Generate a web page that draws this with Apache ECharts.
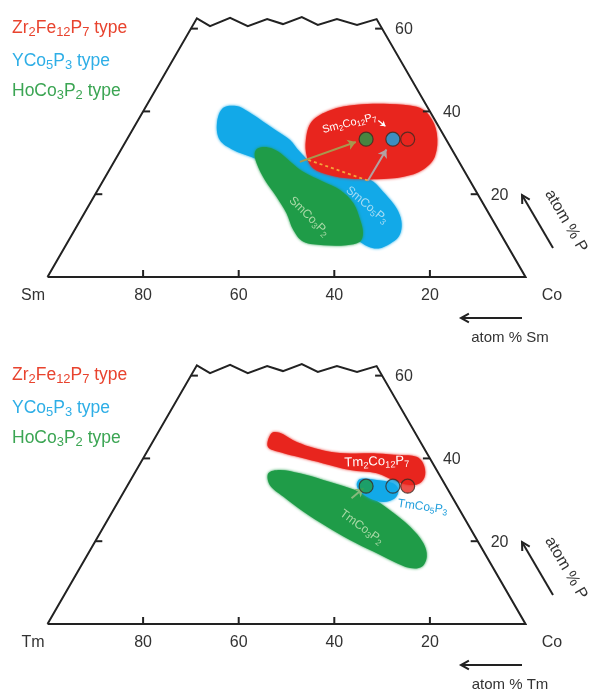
<!DOCTYPE html>
<html><head><meta charset="utf-8">
<script src="https://cdn.jsdelivr.net/npm/echarts@6/dist/echarts.min.js"></script>
<style>html,body{margin:0;padding:0;background:#fff}#c{width:592px;height:693px}</style>
</head><body><div id="c"></div>
<script>
// every point: [atom % R (Sm or Tm), atom % P]; Co = 100 - R - P
const bottomTicks = [80, 60, 40, 20];
const rightTicks = [20, 40, 60];
const leftTicks = [20, 40, 60];
const frameTop = [[37.5,62.5],[35.7,60.6],[30.5,62.6],[27.8,60.6],[22.9,62.3],[20.2,61.1],[15.4,62.8],[13.0,60.9],[8.3,62.3],[4.8,60.9],[0,62.3]];

const smRed = [[26.0,37.5],[20.7,40.3],[14.5,41.6],[7.5,41.8],[2.2,41.1],[0.6,39.1],[1.2,34.7],[4.4,29.1],[8.5,25.9],[13.4,24.2],[19.3,23.6],[24.8,23.8],[28.6,24.6],[31.3,26.3],[31.2,29.1],[29.4,33.1]];
const smBlue = [[42.9,40.8],[39.8,41.3],[38.0,39.9],[36.1,37.5],[34.2,35.1],[32.7,33.1],[32.1,30.3],[30.4,26.6],[26.3,25.1],[21.9,24.1],[20.3,23.0],[19.5,20.6],[18.8,17.8],[18.8,15.0],[19.8,12.2],[21.7,9.7],[24.4,8.0],[27.3,6.9],[29.2,7.3],[31.0,9.4],[33.4,15.0],[36.7,21.0],[39.9,27.1],[43.1,29.1],[45.8,30.7],[47.4,33.1],[46.0,37.1]];
const smGreen = [[40.4,31.1],[38.2,31.3],[36.6,30.3],[35.3,27.9],[33.8,25.4],[30.8,23.0],[28.3,21.0],[27.1,17.8],[27.7,13.8],[28.7,10.6],[30.4,8.5],[33.6,7.7],[38.4,7.7],[42.2,8.5],[42.9,11.4],[42.3,15.4],[42.4,19.4],[42.8,23.4],[42.5,27.5],[41.7,29.9]];

const tmRed = [[30.1,46.1],[28.3,46.2],[26.4,44.4],[23.7,42.8],[20.1,41.6],[16.1,41.2],[10.5,41.2],[5.9,40.8],[2.6,40.4],[2.0,38.8],[3.0,36.0],[5.1,34.0],[7.4,33.6],[9.8,34.4],[12.9,36.4],[18.1,37.2],[22.9,38.8],[27.0,40.2],[30.4,41.4],[32.5,42.8]];
const tmGreen = [[35.6,36.4],[32.8,37.2],[29.0,36.4],[24.9,34.8],[20.3,32.8],[17.2,30.8],[14.6,27.5],[12.4,23.5],[11.6,19.5],[12.5,16.3],[14.8,13.8],[17.4,13.5],[20.1,15.1],[23.1,17.5],[26.6,20.3],[29.8,23.5],[32.9,27.1],[35.3,30.8],[36.7,33.6]];
const tmBlue = [[17.1,35.0],[13.7,34.8],[10.7,34.0],[10.4,32.4],[12.1,30.4],[15.0,29.5],[17.4,30.4],[18.6,32.0],[18.5,33.6]];

// HoCo3P2-type, YCo5P3-type, Zr2Fe12P7-type compositions
const phasePoints = [[16.7,33.3],[11.1,33.3],[8.0,33.3]];

const smArrowOlive = [[33.3,27.8],[19.2,32.6]];
const smArrowGray = [[21.3,23.3],[13.7,30.8]];
const smArrowWhite = [[11.9,37.8],[11.1,36.4]];
const smDotted = [[31.3,28.3],[21.3,23.3]];
const tmArrowGreen = [[21.2,30.4],[17.5,32.8]];

// ---------------- rendering ----------------
const FONT = '"Liberation Sans", Arial, sans-serif';
const RED = '#e8251e', BLUE = '#12a9e8', GREEN = '#1f9c48';
const SQ = Math.sqrt(3) / 2;
const toXY = q => [100 - q[0] - q[1] / 2, q[1] * SQ];
const U = 4.78, YMAX = 56;
const BASES = [277, 624];
const LINE = '#222';
const TXT = '#333';

function blob(gi, pts, color, z) {
  return {
    type: 'custom', coordinateSystem: 'cartesian2d', xAxisIndex: gi, yAxisIndex: gi,
    data: [[0, 0]], silent: true, clip: false, z: z,
    renderItem: (params, api) => ({
      type: 'polygon',
      shape: { points: pts.map(q => api.coord(toXY(q))), smooth: 0.35 },
      style: { fill: color, shadowBlur: 3, shadowColor: color }
    })
  };
}

function frame(gi) {
  const pts = [[100, 0]].concat(frameTop, [[0, 0], [100, 0]]);
  return {
    type: 'line', xAxisIndex: gi, yAxisIndex: gi, data: pts.map(toXY),
    symbol: 'none', silent: true, z: 5,
    lineStyle: { color: LINE, width: 2, join: 'miter' }
  };
}

function ticks(gi) {
  const items = [];
  bottomTicks.forEach(v => items.push({ q: [v, 0], d: [0, -7], lab: String(v), lo: [0, 19], al: 'center' }));
  leftTicks.forEach(v => items.push({ q: [100 - v, v], d: [7, 0] }));
  rightTicks.forEach(v => items.push({ q: [0, v], d: [-7, 0], lab: String(v), lo: [13, 1], al: 'left' }));
  return {
    type: 'custom', coordinateSystem: 'cartesian2d', xAxisIndex: gi, yAxisIndex: gi,
    data: items.map(() => [0, 0]), silent: true, clip: false, z: 6,
    renderItem: (params, api) => {
      const it = items[params.dataIndex];
      const c = api.coord(toXY(it.q));
      const ch = [{ type: 'line', shape: { x1: c[0], y1: c[1], x2: c[0] + it.d[0], y2: c[1] + it.d[1] }, style: { stroke: LINE, lineWidth: 2 } }];
      if (it.lab) ch.push({ type: 'text', x: c[0] + it.lo[0], y: c[1] + it.lo[1], style: { text: it.lab, fill: TXT, fontSize: 16, fontFamily: FONT, align: it.al, verticalAlign: 'middle' } });
      return { type: 'group', children: ch };
    }
  };
}

function arrows(gi, list) {
  return {
    type: 'lines', coordinateSystem: 'cartesian2d', xAxisIndex: gi, yAxisIndex: gi, silent: true, z: 8,
    symbol: ['none', 'arrow'], symbolSize: 8,
    data: list.map(a => ({ coords: [toXY(a.seg[0]), toXY(a.seg[1])], lineStyle: { color: a.color, width: a.w, type: a.type || 'solid', opacity: 1 }, symbolSize: a.size || 8, symbol: a.sym || ['none', 'arrow'] }))
  };
}

function points(gi) {
  const cols = [GREEN, BLUE, RED];
  return {
    type: 'scatter', xAxisIndex: gi, yAxisIndex: gi, silent: true, z: 9, symbolSize: 14,
    data: phasePoints.map((q, i) => ({ value: toXY(q), itemStyle: { color: cols[i], borderColor: '#3a2a22', borderWidth: 1.2 } }))
  };
}

function labels(gi, items) {
  return {
    type: 'custom', coordinateSystem: 'cartesian2d', xAxisIndex: gi, yAxisIndex: gi,
    data: items.map(() => [0, 0]), silent: true, clip: false, z: 10,
    renderItem: (params, api) => {
      const it = items[params.dataIndex];
      const c = api.coord(toXY(it.at));
      return {
        type: 'text', x: c[0], y: c[1], rotation: it.rot * Math.PI / 180,
        style: {
          text: it.text, fill: it.color, fontSize: it.size, fontFamily: FONT, lineHeight: it.size * 1.25,
          align: 'center', verticalAlign: 'middle',
          rich: { s: { fontSize: it.size * 0.72, lineHeight: it.size * 0.72, verticalAlign: 'bottom', fill: it.color, fontFamily: FONT } }
        }
      };
    }
  };
}

function richText(x, y, text, color, size, extra) {
  return Object.assign({
    type: 'text', x: x, y: y,
    style: {
      text: text, fill: color, fontSize: size, fontFamily: FONT, lineHeight: size * 1.25,
      align: 'left', verticalAlign: 'middle',
      rich: { s: { fontSize: size * 0.74, lineHeight: size * 0.74, verticalAlign: 'bottom', fill: color, fontFamily: FONT } }
    }
  }, extra || {});
}

function arrowG(x1, y1, x2, y2) {
  const a = Math.atan2(y2 - y1, x2 - x1), h = 9, sp = 0.5;
  const p1 = [x2 - h * Math.cos(a - sp), y2 - h * Math.sin(a - sp)];
  const p2 = [x2 - h * Math.cos(a + sp), y2 - h * Math.sin(a + sp)];
  return {
    type: 'group', children: [
      { type: 'line', shape: { x1: x1, y1: y1, x2: x2, y2: y2 }, style: { stroke: LINE, lineWidth: 2 } },
      { type: 'polyline', shape: { points: [p1, [x2, y2], p2] }, style: { stroke: LINE, lineWidth: 2, fill: null } }
    ]
  };
}

const LEG = [
  ['Zr{s|2}Fe{s|12}P{s|7} type', '#e8432e'],
  ['YCo{s|5}P{s|3} type', '#2eaee6'],
  ['HoCo{s|3}P{s|2} type', '#3ba553']
];
const legendY = [[28, 61, 91], [375, 408, 438]];
const elem = ['Sm', 'Tm'];

const graphic = [];
[0, 1].forEach(gi => {
  const b = BASES[gi];
  LEG.forEach((l, i) => graphic.push(richText(12, legendY[gi][i], l[0], l[1], 17.5)));
  graphic.push({ type: 'text', x: 33, y: b + 19, style: { text: elem[gi], fill: TXT, fontSize: 16, fontFamily: FONT, align: 'center', verticalAlign: 'middle' } });
  graphic.push({ type: 'text', x: 552, y: b + 19, style: { text: 'Co', fill: TXT, fontSize: 16, fontFamily: FONT, align: 'center', verticalAlign: 'middle' } });
  graphic.push(arrowG(522, b + 41, 461, b + 41));
  graphic.push({ type: 'text', x: 510, y: b + 61, style: { text: 'atom % ' + elem[gi], fill: TXT, fontSize: 15, fontFamily: FONT, align: 'center', verticalAlign: 'middle' } });
  graphic.push(arrowG(553, b - 29, 522, b - 82));
  graphic.push({ type: 'text', x: 566, y: b - 56, rotation: -Math.PI / 3, style: { text: 'atom % P', fill: TXT, fontSize: 16, fontFamily: FONT, align: 'center', verticalAlign: 'middle' } });
});

const grids = BASES.map(b => ({ left: 47.5, top: b - YMAX * U, width: 100 * U, height: YMAX * U }));
const xAxes = [0, 1].map(gi => ({ type: 'value', gridIndex: gi, min: 0, max: 100, show: false }));
const yAxes = [0, 1].map(gi => ({ type: 'value', gridIndex: gi, min: 0, max: YMAX, show: false }));

const series = [
  blob(0, smBlue, BLUE, 1), blob(0, smGreen, GREEN, 2), blob(0, smRed, RED, 3),
  frame(0), ticks(0),
  arrows(0, [
    { seg: smDotted, color: '#f4a53a', w: 1.8, type: [3, 3], sym: ['none', 'none'] },
    { seg: smArrowOlive, color: '#a8984e', w: 2 },
    { seg: smArrowGray, color: '#b3a1a1', w: 2 },
    { seg: smArrowWhite, color: '#ffffff', w: 1.3, size: 5 }
  ]),
  points(0),
  labels(0, [
    { text: 'Sm{s|2}Co{s|12}P{s|7}', at: [18.3, 37.1], rot: 14, color: '#ffffff', size: 11 },
    { text: 'SmCo{s|5}P{s|3}', at: [24.5, 17.4], rot: -40, color: '#a6dcf3', size: 12 },
    { text: 'SmCo{s|3}P{s|2}', at: [38.0, 14.6], rot: -45, color: '#a9d9a6', size: 12 }
  ]),
  blob(1, tmGreen, GREEN, 1), blob(1, tmRed, RED, 2), blob(1, tmBlue, BLUE, 3),
  frame(1), ticks(1),
  arrows(1, [{ seg: tmArrowGreen, color: '#86b97c', w: 2 }]),
  points(1),
  labels(1, [
    { text: 'Tm{s|2}Co{s|12}P{s|7}', at: [11.5, 39.2], rot: 2, color: '#ffffff', size: 13 },
    { text: 'TmCo{s|5}P{s|3}', at: [7.4, 28.3], rot: -8, color: '#229fdc', size: 12 },
    { text: 'TmCo{s|3}P{s|2}', at: [22.6, 23.4], rot: -36, color: '#a9d9a6', size: 12 }
  ])
];

const chart = echarts.init(document.getElementById('c'));
chart.setOption({
  animation: false,
  backgroundColor: '#ffffff',
  grid: grids, xAxis: xAxes, yAxis: yAxes,
  series: series,
  graphic: graphic
});
</script>
</body></html>
